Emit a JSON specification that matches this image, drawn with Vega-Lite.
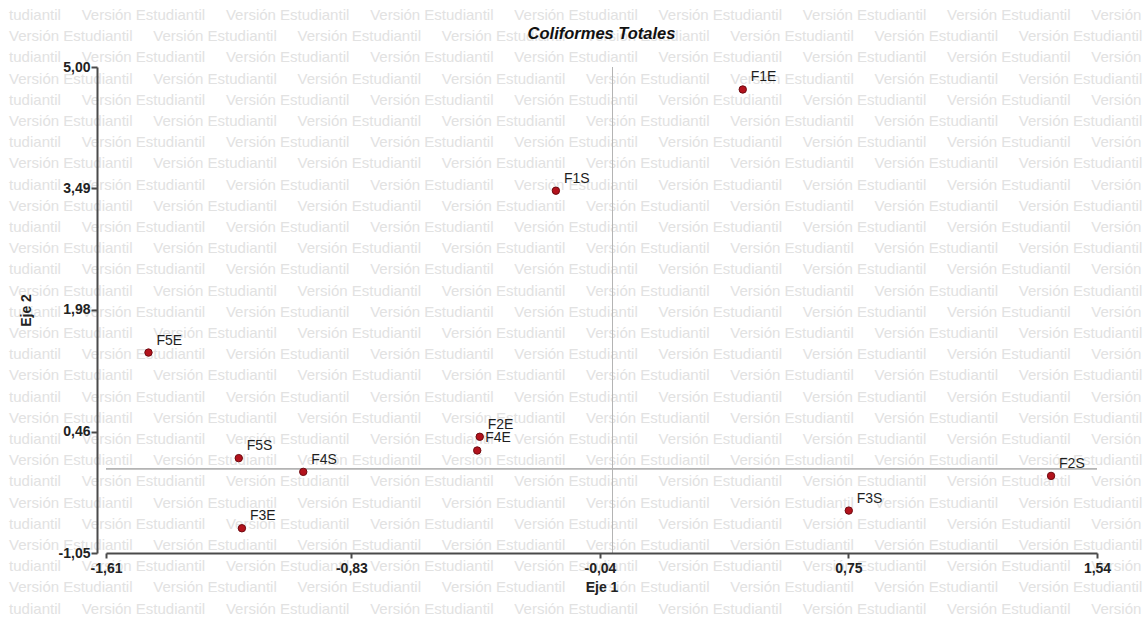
{
  "$schema": "https://vega.github.io/schema/vega-lite/v6.json",
  "autosize": "none",
  "width": 991,
  "height": 486,
  "padding": {"left": 106, "top": 67, "right": 49, "bottom": 67},
  "background": "white",
  "config": {"view": {"stroke": null}, "font": "Liberation Sans"},
  "title": {"text": "Coliformes Totales", "font": "Liberation Sans", "fontSize": 16.5, "fontWeight": "bold", "fontStyle": "italic", "color": "#111111", "offset": -35, "anchor": "middle", "frame": "group", "zindex": 2},
  "datasets": {
    "puntos": [
      {"punto": "F1E", "eje1": 0.414, "eje2": 4.72},
      {"punto": "F1S", "eje1": -0.18, "eje2": 3.46},
      {"punto": "F5E", "eje1": -1.475, "eje2": 1.445},
      {"punto": "F5S", "eje1": -1.188, "eje2": 0.131},
      {"punto": "F4S", "eje1": -0.983, "eje2": -0.04},
      {"punto": "F3E", "eje1": -1.178, "eje2": -0.742},
      {"punto": "F2E", "eje1": -0.422, "eje2": 0.397},
      {"punto": "F4E", "eje1": -0.43, "eje2": 0.226},
      {"punto": "F2S", "eje1": 1.394, "eje2": -0.09},
      {"punto": "F3S", "eje1": 0.751, "eje2": -0.522}
    ],
    "marca": [
      {"fila": 1, "texto": "tudiantil\u00a0\u00a0\u00a0\u00a0\u00a0Versión Estudiantil\u00a0\u00a0\u00a0\u00a0\u00a0Versión Estudiantil\u00a0\u00a0\u00a0\u00a0\u00a0Versión Estudiantil\u00a0\u00a0\u00a0\u00a0\u00a0Versión Estudiantil\u00a0\u00a0\u00a0\u00a0\u00a0Versión Estudiantil\u00a0\u00a0\u00a0\u00a0\u00a0Versión Estudiantil\u00a0\u00a0\u00a0\u00a0\u00a0Versión Estudiantil\u00a0\u00a0\u00a0\u00a0\u00a0Versión Estudiantil\u00a0\u00a0\u00a0\u00a0\u00a0Versión"},
      {"fila": 2, "texto": "Versión Estudiantil\u00a0\u00a0\u00a0\u00a0\u00a0Versión Estudiantil\u00a0\u00a0\u00a0\u00a0\u00a0Versión Estudiantil\u00a0\u00a0\u00a0\u00a0\u00a0Versión Estudiantil\u00a0\u00a0\u00a0\u00a0\u00a0Versión Estudiantil\u00a0\u00a0\u00a0\u00a0\u00a0Versión Estudiantil\u00a0\u00a0\u00a0\u00a0\u00a0Versión Estudiantil\u00a0\u00a0\u00a0\u00a0\u00a0Versión Estudiantil\u00a0\u00a0\u00a0\u00a0\u00a0Versión Estudiantil"},
      {"fila": 3, "texto": "tudiantil\u00a0\u00a0\u00a0\u00a0\u00a0Versión Estudiantil\u00a0\u00a0\u00a0\u00a0\u00a0Versión Estudiantil\u00a0\u00a0\u00a0\u00a0\u00a0Versión Estudiantil\u00a0\u00a0\u00a0\u00a0\u00a0Versión Estudiantil\u00a0\u00a0\u00a0\u00a0\u00a0Versión Estudiantil\u00a0\u00a0\u00a0\u00a0\u00a0Versión Estudiantil\u00a0\u00a0\u00a0\u00a0\u00a0Versión Estudiantil\u00a0\u00a0\u00a0\u00a0\u00a0Versión Estudiantil\u00a0\u00a0\u00a0\u00a0\u00a0Versión"},
      {"fila": 4, "texto": "Versión Estudiantil\u00a0\u00a0\u00a0\u00a0\u00a0Versión Estudiantil\u00a0\u00a0\u00a0\u00a0\u00a0Versión Estudiantil\u00a0\u00a0\u00a0\u00a0\u00a0Versión Estudiantil\u00a0\u00a0\u00a0\u00a0\u00a0Versión Estudiantil\u00a0\u00a0\u00a0\u00a0\u00a0Versión Estudiantil\u00a0\u00a0\u00a0\u00a0\u00a0Versión Estudiantil\u00a0\u00a0\u00a0\u00a0\u00a0Versión Estudiantil\u00a0\u00a0\u00a0\u00a0\u00a0Versión Estudiantil"},
      {"fila": 5, "texto": "tudiantil\u00a0\u00a0\u00a0\u00a0\u00a0Versión Estudiantil\u00a0\u00a0\u00a0\u00a0\u00a0Versión Estudiantil\u00a0\u00a0\u00a0\u00a0\u00a0Versión Estudiantil\u00a0\u00a0\u00a0\u00a0\u00a0Versión Estudiantil\u00a0\u00a0\u00a0\u00a0\u00a0Versión Estudiantil\u00a0\u00a0\u00a0\u00a0\u00a0Versión Estudiantil\u00a0\u00a0\u00a0\u00a0\u00a0Versión Estudiantil\u00a0\u00a0\u00a0\u00a0\u00a0Versión Estudiantil\u00a0\u00a0\u00a0\u00a0\u00a0Versión"},
      {"fila": 6, "texto": "Versión Estudiantil\u00a0\u00a0\u00a0\u00a0\u00a0Versión Estudiantil\u00a0\u00a0\u00a0\u00a0\u00a0Versión Estudiantil\u00a0\u00a0\u00a0\u00a0\u00a0Versión Estudiantil\u00a0\u00a0\u00a0\u00a0\u00a0Versión Estudiantil\u00a0\u00a0\u00a0\u00a0\u00a0Versión Estudiantil\u00a0\u00a0\u00a0\u00a0\u00a0Versión Estudiantil\u00a0\u00a0\u00a0\u00a0\u00a0Versión Estudiantil\u00a0\u00a0\u00a0\u00a0\u00a0Versión Estudiantil"},
      {"fila": 7, "texto": "tudiantil\u00a0\u00a0\u00a0\u00a0\u00a0Versión Estudiantil\u00a0\u00a0\u00a0\u00a0\u00a0Versión Estudiantil\u00a0\u00a0\u00a0\u00a0\u00a0Versión Estudiantil\u00a0\u00a0\u00a0\u00a0\u00a0Versión Estudiantil\u00a0\u00a0\u00a0\u00a0\u00a0Versión Estudiantil\u00a0\u00a0\u00a0\u00a0\u00a0Versión Estudiantil\u00a0\u00a0\u00a0\u00a0\u00a0Versión Estudiantil\u00a0\u00a0\u00a0\u00a0\u00a0Versión Estudiantil\u00a0\u00a0\u00a0\u00a0\u00a0Versión"},
      {"fila": 8, "texto": "Versión Estudiantil\u00a0\u00a0\u00a0\u00a0\u00a0Versión Estudiantil\u00a0\u00a0\u00a0\u00a0\u00a0Versión Estudiantil\u00a0\u00a0\u00a0\u00a0\u00a0Versión Estudiantil\u00a0\u00a0\u00a0\u00a0\u00a0Versión Estudiantil\u00a0\u00a0\u00a0\u00a0\u00a0Versión Estudiantil\u00a0\u00a0\u00a0\u00a0\u00a0Versión Estudiantil\u00a0\u00a0\u00a0\u00a0\u00a0Versión Estudiantil\u00a0\u00a0\u00a0\u00a0\u00a0Versión Estudiantil"},
      {"fila": 9, "texto": "tudiantil\u00a0\u00a0\u00a0\u00a0\u00a0Versión Estudiantil\u00a0\u00a0\u00a0\u00a0\u00a0Versión Estudiantil\u00a0\u00a0\u00a0\u00a0\u00a0Versión Estudiantil\u00a0\u00a0\u00a0\u00a0\u00a0Versión Estudiantil\u00a0\u00a0\u00a0\u00a0\u00a0Versión Estudiantil\u00a0\u00a0\u00a0\u00a0\u00a0Versión Estudiantil\u00a0\u00a0\u00a0\u00a0\u00a0Versión Estudiantil\u00a0\u00a0\u00a0\u00a0\u00a0Versión Estudiantil\u00a0\u00a0\u00a0\u00a0\u00a0Versión"},
      {"fila": 10, "texto": "Versión Estudiantil\u00a0\u00a0\u00a0\u00a0\u00a0Versión Estudiantil\u00a0\u00a0\u00a0\u00a0\u00a0Versión Estudiantil\u00a0\u00a0\u00a0\u00a0\u00a0Versión Estudiantil\u00a0\u00a0\u00a0\u00a0\u00a0Versión Estudiantil\u00a0\u00a0\u00a0\u00a0\u00a0Versión Estudiantil\u00a0\u00a0\u00a0\u00a0\u00a0Versión Estudiantil\u00a0\u00a0\u00a0\u00a0\u00a0Versión Estudiantil\u00a0\u00a0\u00a0\u00a0\u00a0Versión Estudiantil"},
      {"fila": 11, "texto": "tudiantil\u00a0\u00a0\u00a0\u00a0\u00a0Versión Estudiantil\u00a0\u00a0\u00a0\u00a0\u00a0Versión Estudiantil\u00a0\u00a0\u00a0\u00a0\u00a0Versión Estudiantil\u00a0\u00a0\u00a0\u00a0\u00a0Versión Estudiantil\u00a0\u00a0\u00a0\u00a0\u00a0Versión Estudiantil\u00a0\u00a0\u00a0\u00a0\u00a0Versión Estudiantil\u00a0\u00a0\u00a0\u00a0\u00a0Versión Estudiantil\u00a0\u00a0\u00a0\u00a0\u00a0Versión Estudiantil\u00a0\u00a0\u00a0\u00a0\u00a0Versión"},
      {"fila": 12, "texto": "Versión Estudiantil\u00a0\u00a0\u00a0\u00a0\u00a0Versión Estudiantil\u00a0\u00a0\u00a0\u00a0\u00a0Versión Estudiantil\u00a0\u00a0\u00a0\u00a0\u00a0Versión Estudiantil\u00a0\u00a0\u00a0\u00a0\u00a0Versión Estudiantil\u00a0\u00a0\u00a0\u00a0\u00a0Versión Estudiantil\u00a0\u00a0\u00a0\u00a0\u00a0Versión Estudiantil\u00a0\u00a0\u00a0\u00a0\u00a0Versión Estudiantil\u00a0\u00a0\u00a0\u00a0\u00a0Versión Estudiantil"},
      {"fila": 13, "texto": "tudiantil\u00a0\u00a0\u00a0\u00a0\u00a0Versión Estudiantil\u00a0\u00a0\u00a0\u00a0\u00a0Versión Estudiantil\u00a0\u00a0\u00a0\u00a0\u00a0Versión Estudiantil\u00a0\u00a0\u00a0\u00a0\u00a0Versión Estudiantil\u00a0\u00a0\u00a0\u00a0\u00a0Versión Estudiantil\u00a0\u00a0\u00a0\u00a0\u00a0Versión Estudiantil\u00a0\u00a0\u00a0\u00a0\u00a0Versión Estudiantil\u00a0\u00a0\u00a0\u00a0\u00a0Versión Estudiantil\u00a0\u00a0\u00a0\u00a0\u00a0Versión"},
      {"fila": 14, "texto": "Versión Estudiantil\u00a0\u00a0\u00a0\u00a0\u00a0Versión Estudiantil\u00a0\u00a0\u00a0\u00a0\u00a0Versión Estudiantil\u00a0\u00a0\u00a0\u00a0\u00a0Versión Estudiantil\u00a0\u00a0\u00a0\u00a0\u00a0Versión Estudiantil\u00a0\u00a0\u00a0\u00a0\u00a0Versión Estudiantil\u00a0\u00a0\u00a0\u00a0\u00a0Versión Estudiantil\u00a0\u00a0\u00a0\u00a0\u00a0Versión Estudiantil\u00a0\u00a0\u00a0\u00a0\u00a0Versión Estudiantil"},
      {"fila": 15, "texto": "tudiantil\u00a0\u00a0\u00a0\u00a0\u00a0Versión Estudiantil\u00a0\u00a0\u00a0\u00a0\u00a0Versión Estudiantil\u00a0\u00a0\u00a0\u00a0\u00a0Versión Estudiantil\u00a0\u00a0\u00a0\u00a0\u00a0Versión Estudiantil\u00a0\u00a0\u00a0\u00a0\u00a0Versión Estudiantil\u00a0\u00a0\u00a0\u00a0\u00a0Versión Estudiantil\u00a0\u00a0\u00a0\u00a0\u00a0Versión Estudiantil\u00a0\u00a0\u00a0\u00a0\u00a0Versión Estudiantil\u00a0\u00a0\u00a0\u00a0\u00a0Versión"},
      {"fila": 16, "texto": "Versión Estudiantil\u00a0\u00a0\u00a0\u00a0\u00a0Versión Estudiantil\u00a0\u00a0\u00a0\u00a0\u00a0Versión Estudiantil\u00a0\u00a0\u00a0\u00a0\u00a0Versión Estudiantil\u00a0\u00a0\u00a0\u00a0\u00a0Versión Estudiantil\u00a0\u00a0\u00a0\u00a0\u00a0Versión Estudiantil\u00a0\u00a0\u00a0\u00a0\u00a0Versión Estudiantil\u00a0\u00a0\u00a0\u00a0\u00a0Versión Estudiantil\u00a0\u00a0\u00a0\u00a0\u00a0Versión Estudiantil"},
      {"fila": 17, "texto": "tudiantil\u00a0\u00a0\u00a0\u00a0\u00a0Versión Estudiantil\u00a0\u00a0\u00a0\u00a0\u00a0Versión Estudiantil\u00a0\u00a0\u00a0\u00a0\u00a0Versión Estudiantil\u00a0\u00a0\u00a0\u00a0\u00a0Versión Estudiantil\u00a0\u00a0\u00a0\u00a0\u00a0Versión Estudiantil\u00a0\u00a0\u00a0\u00a0\u00a0Versión Estudiantil\u00a0\u00a0\u00a0\u00a0\u00a0Versión Estudiantil\u00a0\u00a0\u00a0\u00a0\u00a0Versión Estudiantil\u00a0\u00a0\u00a0\u00a0\u00a0Versión"},
      {"fila": 18, "texto": "Versión Estudiantil\u00a0\u00a0\u00a0\u00a0\u00a0Versión Estudiantil\u00a0\u00a0\u00a0\u00a0\u00a0Versión Estudiantil\u00a0\u00a0\u00a0\u00a0\u00a0Versión Estudiantil\u00a0\u00a0\u00a0\u00a0\u00a0Versión Estudiantil\u00a0\u00a0\u00a0\u00a0\u00a0Versión Estudiantil\u00a0\u00a0\u00a0\u00a0\u00a0Versión Estudiantil\u00a0\u00a0\u00a0\u00a0\u00a0Versión Estudiantil\u00a0\u00a0\u00a0\u00a0\u00a0Versión Estudiantil"},
      {"fila": 19, "texto": "tudiantil\u00a0\u00a0\u00a0\u00a0\u00a0Versión Estudiantil\u00a0\u00a0\u00a0\u00a0\u00a0Versión Estudiantil\u00a0\u00a0\u00a0\u00a0\u00a0Versión Estudiantil\u00a0\u00a0\u00a0\u00a0\u00a0Versión Estudiantil\u00a0\u00a0\u00a0\u00a0\u00a0Versión Estudiantil\u00a0\u00a0\u00a0\u00a0\u00a0Versión Estudiantil\u00a0\u00a0\u00a0\u00a0\u00a0Versión Estudiantil\u00a0\u00a0\u00a0\u00a0\u00a0Versión Estudiantil\u00a0\u00a0\u00a0\u00a0\u00a0Versión"},
      {"fila": 20, "texto": "Versión Estudiantil\u00a0\u00a0\u00a0\u00a0\u00a0Versión Estudiantil\u00a0\u00a0\u00a0\u00a0\u00a0Versión Estudiantil\u00a0\u00a0\u00a0\u00a0\u00a0Versión Estudiantil\u00a0\u00a0\u00a0\u00a0\u00a0Versión Estudiantil\u00a0\u00a0\u00a0\u00a0\u00a0Versión Estudiantil\u00a0\u00a0\u00a0\u00a0\u00a0Versión Estudiantil\u00a0\u00a0\u00a0\u00a0\u00a0Versión Estudiantil\u00a0\u00a0\u00a0\u00a0\u00a0Versión Estudiantil"},
      {"fila": 21, "texto": "tudiantil\u00a0\u00a0\u00a0\u00a0\u00a0Versión Estudiantil\u00a0\u00a0\u00a0\u00a0\u00a0Versión Estudiantil\u00a0\u00a0\u00a0\u00a0\u00a0Versión Estudiantil\u00a0\u00a0\u00a0\u00a0\u00a0Versión Estudiantil\u00a0\u00a0\u00a0\u00a0\u00a0Versión Estudiantil\u00a0\u00a0\u00a0\u00a0\u00a0Versión Estudiantil\u00a0\u00a0\u00a0\u00a0\u00a0Versión Estudiantil\u00a0\u00a0\u00a0\u00a0\u00a0Versión Estudiantil\u00a0\u00a0\u00a0\u00a0\u00a0Versión"},
      {"fila": 22, "texto": "Versión Estudiantil\u00a0\u00a0\u00a0\u00a0\u00a0Versión Estudiantil\u00a0\u00a0\u00a0\u00a0\u00a0Versión Estudiantil\u00a0\u00a0\u00a0\u00a0\u00a0Versión Estudiantil\u00a0\u00a0\u00a0\u00a0\u00a0Versión Estudiantil\u00a0\u00a0\u00a0\u00a0\u00a0Versión Estudiantil\u00a0\u00a0\u00a0\u00a0\u00a0Versión Estudiantil\u00a0\u00a0\u00a0\u00a0\u00a0Versión Estudiantil\u00a0\u00a0\u00a0\u00a0\u00a0Versión Estudiantil"},
      {"fila": 23, "texto": "tudiantil\u00a0\u00a0\u00a0\u00a0\u00a0Versión Estudiantil\u00a0\u00a0\u00a0\u00a0\u00a0Versión Estudiantil\u00a0\u00a0\u00a0\u00a0\u00a0Versión Estudiantil\u00a0\u00a0\u00a0\u00a0\u00a0Versión Estudiantil\u00a0\u00a0\u00a0\u00a0\u00a0Versión Estudiantil\u00a0\u00a0\u00a0\u00a0\u00a0Versión Estudiantil\u00a0\u00a0\u00a0\u00a0\u00a0Versión Estudiantil\u00a0\u00a0\u00a0\u00a0\u00a0Versión Estudiantil\u00a0\u00a0\u00a0\u00a0\u00a0Versión"},
      {"fila": 24, "texto": "Versión Estudiantil\u00a0\u00a0\u00a0\u00a0\u00a0Versión Estudiantil\u00a0\u00a0\u00a0\u00a0\u00a0Versión Estudiantil\u00a0\u00a0\u00a0\u00a0\u00a0Versión Estudiantil\u00a0\u00a0\u00a0\u00a0\u00a0Versión Estudiantil\u00a0\u00a0\u00a0\u00a0\u00a0Versión Estudiantil\u00a0\u00a0\u00a0\u00a0\u00a0Versión Estudiantil\u00a0\u00a0\u00a0\u00a0\u00a0Versión Estudiantil\u00a0\u00a0\u00a0\u00a0\u00a0Versión Estudiantil"},
      {"fila": 25, "texto": "tudiantil\u00a0\u00a0\u00a0\u00a0\u00a0Versión Estudiantil\u00a0\u00a0\u00a0\u00a0\u00a0Versión Estudiantil\u00a0\u00a0\u00a0\u00a0\u00a0Versión Estudiantil\u00a0\u00a0\u00a0\u00a0\u00a0Versión Estudiantil\u00a0\u00a0\u00a0\u00a0\u00a0Versión Estudiantil\u00a0\u00a0\u00a0\u00a0\u00a0Versión Estudiantil\u00a0\u00a0\u00a0\u00a0\u00a0Versión Estudiantil\u00a0\u00a0\u00a0\u00a0\u00a0Versión Estudiantil\u00a0\u00a0\u00a0\u00a0\u00a0Versión"},
      {"fila": 26, "texto": "Versión Estudiantil\u00a0\u00a0\u00a0\u00a0\u00a0Versión Estudiantil\u00a0\u00a0\u00a0\u00a0\u00a0Versión Estudiantil\u00a0\u00a0\u00a0\u00a0\u00a0Versión Estudiantil\u00a0\u00a0\u00a0\u00a0\u00a0Versión Estudiantil\u00a0\u00a0\u00a0\u00a0\u00a0Versión Estudiantil\u00a0\u00a0\u00a0\u00a0\u00a0Versión Estudiantil\u00a0\u00a0\u00a0\u00a0\u00a0Versión Estudiantil\u00a0\u00a0\u00a0\u00a0\u00a0Versión Estudiantil"},
      {"fila": 27, "texto": "tudiantil\u00a0\u00a0\u00a0\u00a0\u00a0Versión Estudiantil\u00a0\u00a0\u00a0\u00a0\u00a0Versión Estudiantil\u00a0\u00a0\u00a0\u00a0\u00a0Versión Estudiantil\u00a0\u00a0\u00a0\u00a0\u00a0Versión Estudiantil\u00a0\u00a0\u00a0\u00a0\u00a0Versión Estudiantil\u00a0\u00a0\u00a0\u00a0\u00a0Versión Estudiantil\u00a0\u00a0\u00a0\u00a0\u00a0Versión Estudiantil\u00a0\u00a0\u00a0\u00a0\u00a0Versión Estudiantil\u00a0\u00a0\u00a0\u00a0\u00a0Versión"},
      {"fila": 28, "texto": "Versión Estudiantil\u00a0\u00a0\u00a0\u00a0\u00a0Versión Estudiantil\u00a0\u00a0\u00a0\u00a0\u00a0Versión Estudiantil\u00a0\u00a0\u00a0\u00a0\u00a0Versión Estudiantil\u00a0\u00a0\u00a0\u00a0\u00a0Versión Estudiantil\u00a0\u00a0\u00a0\u00a0\u00a0Versión Estudiantil\u00a0\u00a0\u00a0\u00a0\u00a0Versión Estudiantil\u00a0\u00a0\u00a0\u00a0\u00a0Versión Estudiantil\u00a0\u00a0\u00a0\u00a0\u00a0Versión Estudiantil"},
      {"fila": 29, "texto": "tudiantil\u00a0\u00a0\u00a0\u00a0\u00a0Versión Estudiantil\u00a0\u00a0\u00a0\u00a0\u00a0Versión Estudiantil\u00a0\u00a0\u00a0\u00a0\u00a0Versión Estudiantil\u00a0\u00a0\u00a0\u00a0\u00a0Versión Estudiantil\u00a0\u00a0\u00a0\u00a0\u00a0Versión Estudiantil\u00a0\u00a0\u00a0\u00a0\u00a0Versión Estudiantil\u00a0\u00a0\u00a0\u00a0\u00a0Versión Estudiantil\u00a0\u00a0\u00a0\u00a0\u00a0Versión Estudiantil\u00a0\u00a0\u00a0\u00a0\u00a0Versión"}
    ]
  },
  "layer": [
    {
      "data": {"name": "marca"},
      "mark": {"type": "text", "align": "left", "baseline": "middle", "fontSize": 15, "font": "Liberation Sans", "color": "#e2e2e2"},
      "encoding": {
        "x": {"datum": -1.918, "type": "quantitative"},
        "y": {"field": "fila", "type": "quantitative", "scale": {"domain": [3.4528, 26.377], "reverse": true, "nice": false, "zero": false}, "axis": null},
        "text": {"field": "texto"}
      }
    },
    {
      "data": {"name": "puntos"},
      "layer": [
        {
          "mark": {"type": "rule", "color": "#b4b4b4", "strokeWidth": 1},
          "encoding": {"x": {"datum": 0, "type": "quantitative"}}
        },
        {
          "mark": {"type": "rule", "color": "#b4b4b4", "strokeWidth": 1},
          "encoding": {"y": {"datum": 0, "type": "quantitative"}}
        },
        {
          "mark": {"type": "point", "filled": true, "size": 55, "color": "#b3121c", "stroke": "#6e0a10", "strokeWidth": 1, "opacity": 1},
          "encoding": {
            "x": {
              "field": "eje1", "type": "quantitative",
              "scale": {"domain": [-1.61, 1.54], "nice": false, "zero": false},
              "axis": {"title": "Eje 1", "zindex": 2, "values": [-1.61, -0.83, -0.04, 0.75, 1.54], "labelExpr": "replace(replace(format(datum.value, '.2f'), '.', ','), '\u2212', '-')", "grid": false, "domainColor": "#4a4a4a", "domainWidth": 2, "tickColor": "#4a4a4a", "tickWidth": 2, "tickSize": 5, "labelFontSize": 14, "labelFont": "Liberation Sans", "labelFontWeight": "bold", "labelColor": "#222222", "labelPadding": 3, "labelFlush": false, "labelOverlap": false, "titleFontSize": 14, "titleFont": "Liberation Sans", "titleFontWeight": "bold", "titleColor": "#222222", "titlePadding": 5}
            },
            "y": {
              "field": "eje2", "type": "quantitative",
              "scale": {"domain": [-1.05, 5.0], "nice": false, "zero": false},
              "axis": {"title": "Eje 2", "zindex": 2, "offset": 9, "values": [-1.05, 0.46, 1.98, 3.49, 5.0], "labelExpr": "replace(replace(format(datum.value, '.2f'), '.', ','), '\u2212', '-')", "grid": false, "domainColor": "#4a4a4a", "domainWidth": 2, "tickColor": "#4a4a4a", "tickWidth": 2, "tickSize": 6, "labelFontSize": 14, "labelFont": "Liberation Sans", "labelFontWeight": "bold", "labelColor": "#222222", "labelPadding": 1, "labelFlush": false, "labelOverlap": false, "titleFontSize": 14, "titleFont": "Liberation Sans", "titleFontWeight": "bold", "titleColor": "#222222", "titlePadding": 25}
            }
          }
        },
        {
          "mark": {"type": "text", "align": "left", "baseline": "middle", "dx": 8, "dy": -12, "fontSize": 14, "font": "Liberation Sans", "color": "#1e1e1e"},
          "encoding": {
            "x": {"field": "eje1", "type": "quantitative"},
            "y": {"field": "eje2", "type": "quantitative"},
            "text": {"field": "punto"}
          }
        }
      ]
    }
  ],
  "resolve": {"scale": {"y": "independent"}}
}
